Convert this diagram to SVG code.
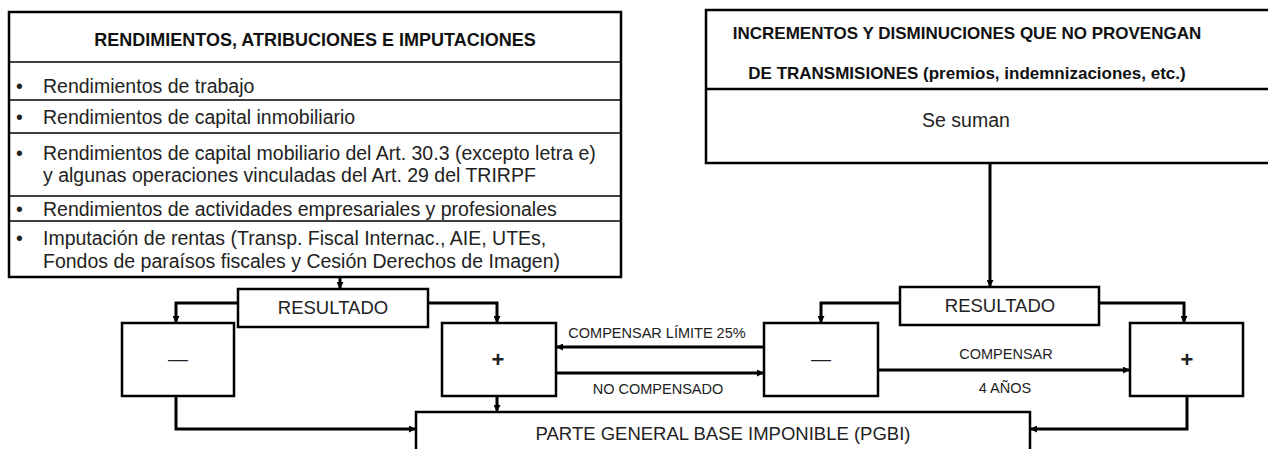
<svg xmlns="http://www.w3.org/2000/svg" width="1268" height="449" viewBox="0 0 1268 449">
<style>
.box{fill:#fff;stroke:#000;stroke-width:2.5}
.row{stroke:#000;stroke-width:1.5}
.t{font-family:"Liberation Sans",Arial,sans-serif;fill:#222}
.body{font-size:19.5px}
.hdr{font-size:18px;font-weight:bold;fill:#111}
.hdr2{font-size:17px;font-weight:bold;fill:#111}
.lbl{font-size:14.5px}
.big{font-size:18.5px}
.c{text-anchor:middle}
.conn{fill:none;stroke:#000;stroke-width:3}
</style>
<defs>
<marker id="ah" viewBox="0 0 8 8" refX="8" refY="4" markerWidth="7" markerHeight="7" markerUnits="userSpaceOnUse" orient="auto">
<path d="M0,0 L8,4 L0,8 z" fill="#000"/>
</marker>
</defs>
<rect width="1268" height="449" fill="#fff"/>

<g id="rendimientos">
<rect class="box" x="9" y="12" width="612" height="265"/>
<line class="row" x1="9" y1="62" x2="621" y2="62"/>
<line class="row" x1="9" y1="100" x2="621" y2="100"/>
<line class="row" x1="9" y1="133" x2="621" y2="133"/>
<line class="row" x1="9" y1="196" x2="621" y2="196"/>
<line class="row" x1="9" y1="221" x2="621" y2="221"/>
<text class="t hdr c" x="315" y="46">RENDIMIENTOS, ATRIBUCIONES E IMPUTACIONES</text>
<g class="t body">
<text x="16" y="93">•</text><text x="43" y="93">Rendimientos de trabajo</text>
<text x="16" y="124">•</text><text x="43" y="124">Rendimientos de capital inmobiliario</text>
<text x="16" y="160">•</text><text x="43" y="160">Rendimientos de capital mobiliario del Art. 30.3 (excepto letra e)</text>
<text x="43" y="182">y algunas operaciones vinculadas del Art. 29 del TRIRPF</text>
<text x="16" y="216">•</text><text x="43" y="216">Rendimientos de actividades empresariales y profesionales</text>
<text x="16" y="245">•</text><text x="43" y="245">Imputación de rentas (Transp. Fiscal Internac., AIE, UTEs,</text>
<text x="43" y="268">Fondos de paraísos fiscales y Cesión Derechos de Imagen)</text>
</g>
</g>

<g id="incrementos">
<rect class="box" x="706" y="10" width="575" height="153"/>
<line class="box" x1="706" y1="89" x2="1281" y2="89"/>
<text class="t hdr2 c" x="967" y="39">INCREMENTOS Y DISMINUCIONES QUE NO PROVENGAN</text>
<text class="t hdr2 c" x="967" y="79">DE TRANSMISIONES (premios, indemnizaciones, etc.)</text>
<text class="t body c" x="966" y="127" font-size="20">Se suman</text>
</g>

<g id="resultado-izq">
<rect class="box" x="238" y="289" width="190" height="38"/>
<text class="t big c" x="333" y="314">RESULTADO</text>
</g>
<g id="menos-izq">
<rect class="box" x="122" y="323" width="112" height="73"/>
<text class="t c" x="178" y="366" font-size="20">—</text>
</g>
<g id="mas-izq">
<rect class="box" x="442" y="323" width="114" height="73"/>
<text class="t c" x="498" y="367" font-size="22" font-weight="bold">+</text>
</g>
<g id="resultado-der">
<rect class="box" x="900" y="287" width="199" height="38"/>
<text class="t big c" x="1000" y="312">RESULTADO</text>
</g>
<g id="menos-centro">
<rect class="box" x="764" y="323" width="114" height="73"/>
<text class="t c" x="821" y="366" font-size="20">—</text>
</g>
<g id="mas-der">
<rect class="box" x="1130" y="323" width="113" height="73"/>
<text class="t c" x="1187" y="367" font-size="22" font-weight="bold">+</text>
</g>
<g id="pgbi">
<rect class="box" x="416" y="412" width="614" height="50"/>
<text class="t big c" x="723" y="440">PARTE GENERAL BASE IMPONIBLE (PGBI)</text>
</g>

<g id="connectors">
<path class="conn" d="M340,277 V289" marker-end="url(#ah)"/>
<path class="conn" d="M238,303 H176 V323" marker-end="url(#ah)"/>
<path class="conn" d="M428,303 H497 V323" marker-end="url(#ah)"/>
<path class="conn" d="M176,396 V429 H416" marker-end="url(#ah)"/>
<path class="conn" d="M497,396 V412" marker-end="url(#ah)"/>
<path class="conn" d="M990,163 V287" marker-end="url(#ah)"/>
<path class="conn" d="M900,303 H821 V323" marker-end="url(#ah)"/>
<path class="conn" d="M1099,303 H1184 V323" marker-end="url(#ah)"/>
<path class="conn" d="M764,347 H556" marker-end="url(#ah)"/>
<path class="conn" d="M556,373 H764" marker-end="url(#ah)"/>
<path class="conn" d="M878,370 H1130" marker-end="url(#ah)"/>
<path class="conn" d="M1187,396 V429 H1030" marker-end="url(#ah)"/>
<g class="t lbl c">
<text x="657" y="338">COMPENSAR LÍMITE 25%</text>
<text x="658" y="394">NO COMPENSADO</text>
<text x="1006" y="359">COMPENSAR</text>
<text x="1005" y="393">4 AÑOS</text>
</g>
</g>
</svg>
